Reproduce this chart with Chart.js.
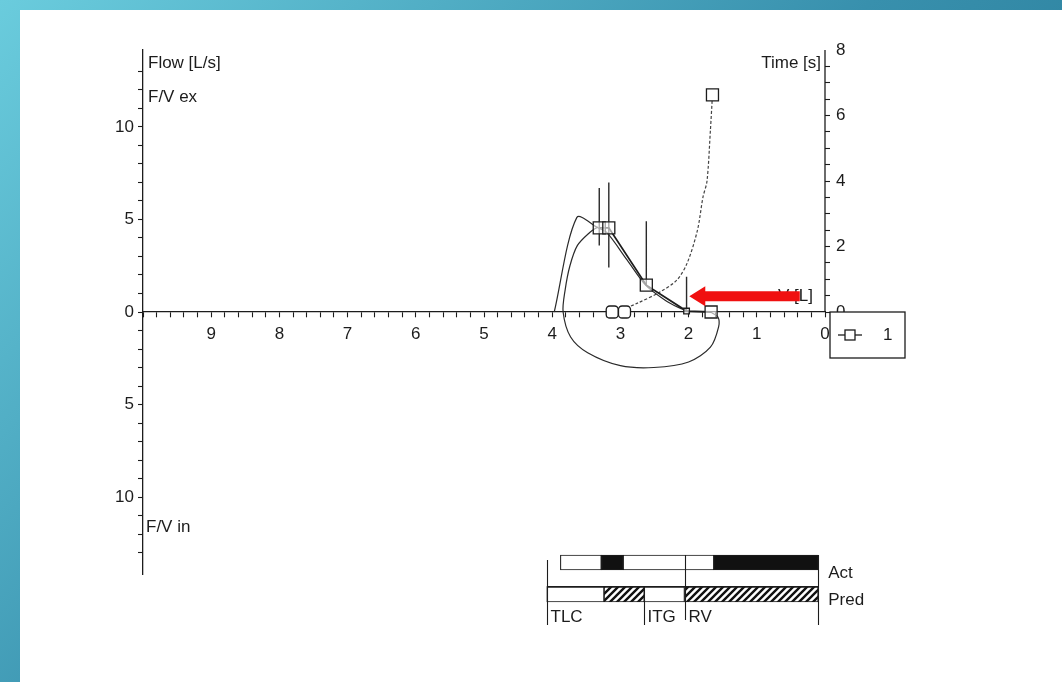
<!DOCTYPE html>
<html><head><meta charset="utf-8">
<script src="https://cdn.jsdelivr.net/npm/chart.js@4.4.0/dist/chart.umd.min.js"></script>
<style>
html,body{margin:0;padding:0;width:1062px;height:682px;overflow:hidden}
body{background:linear-gradient(135deg,#6accdd 0%,#3890ad 50%,#1f6f8c 100%);position:relative}
#panel{position:absolute;left:20px;top:10px;right:0;bottom:0;background:#fff}
#main{position:absolute;left:0;top:0}
#bars{position:absolute;left:0;top:540px}
</style></head><body>
<div id="panel"></div>
<canvas id="main" width="1062" height="682"></canvas>
<canvas id="bars" width="1062" height="100"></canvas>
<script>
// ---------- data ----------
const volumeLabelValues = [9, 8, 7, 6, 5, 4, 3, 2, 1, 0];
const flowLabelValues = [10, 5, 0, -5, -10];
const timeLabelValues = [0, 2, 4, 6, 8];

// measured expiratory trace (outer)
const expV    = [3.97, 3.64, 3.33, 3.20, 2.90, 2.63, 2.35, 2.15, 2.00];
const expFlow = [0.00, 5.10, 4.55, 4.30, 2.80, 1.45, 0.65, 0.25, 0.05];
// inspiratory loop + inner expiratory rise
const loopV    = [1.68, 1.57, 1.56, 1.68, 2.00, 2.51, 3.00, 3.48, 3.73, 3.84, 3.81, 3.74, 3.63, 3.45, 3.33];
const loopFlow = [0.00, -0.27, -0.80, -1.90, -2.70, -3.00, -2.90, -2.20, -1.35, 0.00, 1.20, 2.50, 3.60, 4.30, 4.60];
// series "1" with squares
const predV    = [3.31, 3.17, 2.62, 2.03, 1.67];
const predFlow = [4.55, 4.55, 1.45, 0.05, 0.00];
// error bars of series "1"
const errV  = [3.31, 3.17, 2.62, 2.03];
const errHi = [6.70, 7.00, 4.90, 1.90];
const errLo = [3.60, 2.40, 1.45, 0.00];
// markers on the volume axis
const axisMarkV    = [3.12, 2.94];
const axisMarkFlow = [0, 0];
// time curve (right axis)
const timeV = [3.05, 2.75, 2.42, 2.17, 2.02, 1.87, 1.79, 1.73, 1.68, 1.65];
const timeS = [0.00, 0.27, 0.61, 0.98, 1.50, 2.50, 3.50, 4.00, 5.56, 6.63];

// lung volume bars
const barRows = ['Act', 'Pred'];
const actSeg  = [[3.88, 3.28], [3.28, 2.96], [2.96, 1.63], [1.63, 0.10]];
const actFill = ['white', 'black', 'white', 'black'];
const predSeg  = [[4.08, 3.24], [3.24, 2.65], [2.65, 2.06], [2.06, 0.10]];
const predFill = ['white', 'hatch', 'white', 'hatch'];
const volMarkNames = ['TLC', 'ITG', 'RV', ''];
const volMarkV     = [4.08, 2.65, 2.06, 0.10];

// ---------- helpers ----------
const FONT = "'Liberation Sans', Arial, sans-serif";
const INK = '#1c1c1c';
Chart.defaults.font.family = FONT;
Chart.defaults.font.size = 17;
Chart.defaults.color = INK;

const pts = (xs, ys) => xs.map((x, i) => ({x: x, y: ys[i]}));
const errPts = [];
errV.forEach((v, i) => { errPts.push({x: v, y: errHi[i]}, {x: v, y: errLo[i]}, {x: v, y: null}); });
const isInt = v => Math.abs(v - Math.round(v)) < 1e-6;

// ---------- main chart ----------
const overlay = {
  id: 'overlay',
  afterDraw(chart) {
    const ctx = chart.ctx;
    const xs = chart.scales.x, y = chart.scales.y, y2 = chart.scales.y2;
    const ca = chart.chartArea;
    ctx.save();
    // right axis line (positive part only)
    ctx.strokeStyle = INK; ctx.lineWidth = 1.3;
    ctx.beginPath();
    ctx.moveTo(ca.right, y2.getPixelForValue(0));
    ctx.lineTo(ca.right, y2.getPixelForValue(8));
    ctx.stroke();
    // texts
    ctx.fillStyle = INK;
    ctx.font = '17px ' + FONT;
    ctx.textBaseline = 'middle';
    ctx.textAlign = 'left';
    ctx.fillText('Flow [L/s]', ca.left + 5, 63);
    ctx.fillText('F/V ex', ca.left + 5, 97);
    ctx.fillText('F/V in', ca.left + 3, 527);
    ctx.textAlign = 'right';
    ctx.fillText('Time [s]', ca.right - 4, 63);
    ctx.fillText('V [L]', ca.right - 12, y.getPixelForValue(0.85));
    // red arrow annotation
    const ay = y.getPixelForValue(0.85);
    const tip = xs.getPixelForValue(1.99), base = tip + 16, end = xs.getPixelForValue(0.37);
    ctx.fillStyle = '#f01010';
    ctx.beginPath();
    ctx.moveTo(tip, ay);
    ctx.lineTo(base, ay - 10);
    ctx.lineTo(base, ay - 5);
    ctx.lineTo(end, ay - 5);
    ctx.lineTo(end, ay + 5);
    ctx.lineTo(base, ay + 5);
    ctx.lineTo(base, ay + 10);
    ctx.closePath();
    ctx.fill();
    // legend box
    const lx = ca.right + 5, ly = y.getPixelForValue(0), lw = 75, lh = 46;
    ctx.fillStyle = '#fff';
    ctx.fillRect(lx, ly, lw, lh);
    ctx.strokeStyle = INK; ctx.lineWidth = 1.3;
    ctx.strokeRect(lx, ly, lw, lh);
    const cy = ly + lh / 2;
    ctx.beginPath(); ctx.moveTo(lx + 8, cy); ctx.lineTo(lx + 32, cy); ctx.stroke();
    ctx.fillStyle = '#fff';
    ctx.fillRect(lx + 15, cy - 5, 10, 10);
    ctx.strokeRect(lx + 15, cy - 5, 10, 10);
    ctx.fillStyle = INK; ctx.textAlign = 'left';
    ctx.fillText('1', lx + 53, cy);
    ctx.restore();
  }
};

const lineBase = {showLine: true, pointRadius: 0, borderColor: '#2a2a2a', borderWidth: 1.2, fill: false, tension: 0.3};

new Chart(document.getElementById('main'), {
  type: 'scatter',
  data: {
    datasets: [
      {label: 'axis marks', data: pts(axisMarkV, axisMarkFlow), pointStyle: 'rectRounded', pointRadius: 7,
       pointBackgroundColor: '#fff', pointBorderColor: INK, pointBorderWidth: 1.3, showLine: false},
      {label: '1', data: pts(predV, predFlow), showLine: true, borderColor: INK, borderWidth: 1.8, tension: 0,
       pointStyle: 'rect', pointRadius: [8.5, 8.5, 8.5, 4, 8.5], pointBackgroundColor: 'rgba(255,255,255,0.6)',
       pointBorderColor: INK, pointBorderWidth: 1.3},
      {label: 'err', data: errPts, showLine: true, spanGaps: false, borderColor: '#2a2a2a', borderWidth: 1.4, pointRadius: 0},
      Object.assign({label: 'exp', data: pts(expV, expFlow)}, lineBase),
      Object.assign({label: 'loop', data: pts(loopV, loopFlow)}, lineBase),
      {label: 'time', data: pts(timeV, timeS), yAxisID: 'y2', showLine: true, borderColor: '#444', borderWidth: 1.2,
       tension: 0.3, borderDash: [3, 2], pointStyle: 'rect',
       pointRadius: timeV.map((v, i) => i === timeV.length - 1 ? 8.5 : 0),
       pointBackgroundColor: '#fff', pointBorderColor: INK, pointBorderWidth: 1.3}
    ]
  },
  options: {
    responsive: false, animation: false,
    layout: {padding: {left: 0, right: 0, top: 50, bottom: 108}},
    plugins: {legend: {display: false}, tooltip: {enabled: false}},
    scales: {
      x: {
        type: 'linear', reverse: true, min: 0, max: 10, position: {y: 0},
        grid: {display: true, drawOnChartArea: false, drawTicks: true, tickLength: 5, tickColor: INK, tickWidth: 1.1},
        border: {display: true, color: INK, width: 1.3},
        ticks: {stepSize: 0.2, autoSkip: false, maxRotation: 0, padding: 7, color: INK,
          callback: v => (isInt(v) && volumeLabelValues.includes(Math.round(v))) ? String(Math.round(v)) : ''}
      },
      y: {
        type: 'linear', position: 'left', min: -14.16, max: 14.16,
        afterFit: s => { s.width = 143; },
        grid: {display: true, drawOnChartArea: false, tickLength: 5, tickWidth: 1.1,
          tickColor: c => isInt(c.tick.value) ? INK : 'rgba(0,0,0,0)'},
        border: {display: true, color: INK, width: 1.3},
        ticks: {stepSize: 1, autoSkip: false, padding: 4, color: INK,
          callback: v => (isInt(v) && flowLabelValues.includes(Math.round(v))) ? String(Math.abs(Math.round(v))) : ''}
      },
      y2: {
        type: 'linear', position: 'right', min: -8, max: 8,
        afterFit: s => { s.width = 237; },
        grid: {display: true, drawOnChartArea: false, tickLength: 5, tickWidth: 1.1,
          tickColor: c => c.tick.value >= 0 && c.tick.value < 8 ? INK : 'rgba(0,0,0,0)'},
        border: {display: false},
        ticks: {stepSize: 0.5, autoSkip: false, padding: 6, color: INK,
          callback: v => (isInt(v) && timeLabelValues.includes(Math.round(v))) ? String(Math.round(v)) : ''}
      }
    }
  },
  plugins: [overlay]
});

// ---------- lung volume bars ----------
function hatch() {
  const c = document.createElement('canvas'); c.width = 7; c.height = 7;
  const g = c.getContext('2d');
  g.fillStyle = '#fff'; g.fillRect(0, 0, 7, 7);
  g.strokeStyle = '#111'; g.lineWidth = 2.4;
  g.beginPath();
  g.moveTo(-1, 8); g.lineTo(8, -1);
  g.moveTo(-4.5, 4.5); g.lineTo(4.5, -4.5);
  g.moveTo(2.5, 11.5); g.lineTo(11.5, 2.5);
  g.stroke();
  return g.createPattern(c, 'repeat');
}
const HATCH = hatch();
const fillOf = f => f === 'black' ? '#111' : (f === 'hatch' ? HATCH : '#fff');

const barMarks = {
  id: 'barMarks',
  afterDraw(chart) {
    const ctx = chart.ctx, xs = chart.scales.x;
    const tops = [20, 60, 15, 15], bottoms = [85, 85, 80, 85];
    ctx.save();
    ctx.strokeStyle = INK; ctx.lineWidth = 1.1;
    ctx.fillStyle = INK; ctx.font = '17px ' + FONT; ctx.textBaseline = 'middle'; ctx.textAlign = 'left';
    volMarkV.forEach((v, i) => {
      const px = Math.round(xs.getPixelForValue(v)) + 0.5;
      ctx.beginPath(); ctx.moveTo(px, tops[i]); ctx.lineTo(px, bottoms[i]); ctx.stroke();
      if (volMarkNames[i]) ctx.fillText(volMarkNames[i], px + 3, 77);
    });
    // horizontal guide above Pred row
    ctx.beginPath();
    ctx.moveTo(xs.getPixelForValue(volMarkV[0]), 46.5);
    ctx.lineTo(xs.getPixelForValue(volMarkV[3]), 46.5);
    ctx.stroke();
    const right = xs.getPixelForValue(volMarkV[3]);
    ctx.fillText(barRows[0], right + 10, 33);
    ctx.fillText(barRows[1], right + 10, 60);
    ctx.restore();
  }
};

new Chart(document.getElementById('bars'), {
  type: 'bar',
  data: {
    labels: barRows,
    datasets: actSeg.map((s, i) => ({
      data: [s, predSeg[i]],
      backgroundColor: [fillOf(actFill[i]), fillOf(predFill[i])],
      borderColor: INK, borderWidth: 1.1, borderSkipped: false,
      barThickness: 15, grouped: false
    }))
  },
  options: {
    indexAxis: 'y', responsive: false, animation: false,
    layout: {padding: {left: 143, right: 237, top: 6.5, bottom: 29.5}},
    plugins: {legend: {display: false}, tooltip: {enabled: false}},
    scales: {
      x: {type: 'linear', reverse: true, min: 0, max: 10, display: false},
      y: {display: false}
    }
  },
  plugins: [barMarks]
});
</script>
</body></html>
